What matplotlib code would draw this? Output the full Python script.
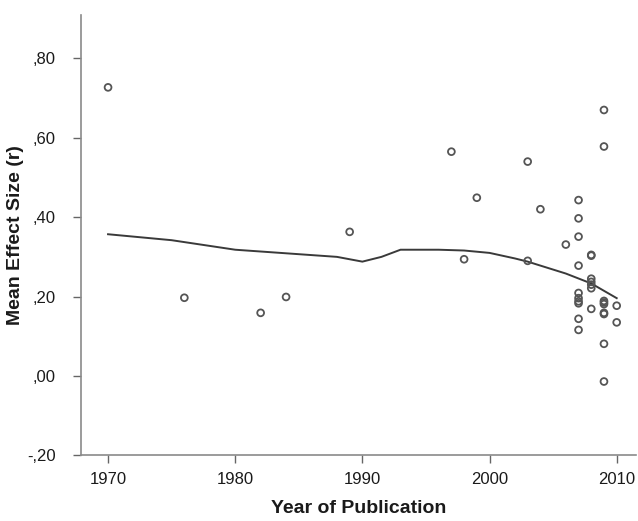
import matplotlib
matplotlib.use("Agg")
import matplotlib.pyplot as plt
from matplotlib.ticker import FuncFormatter

plt.rcParams['font.family'] = ['Liberation Sans', 'DejaVu Sans']

# Scatter data: year of publication and mean effect size (r)
years = [1970, 1976, 1982, 1984, 1989, 1997, 1998, 1999, 2003, 2003, 2004,
         2006,
         2007, 2007, 2007, 2007, 2007, 2007, 2007, 2007, 2007, 2007,
         2008, 2008, 2008, 2008, 2008, 2008, 2008,
         2009, 2009, 2009, 2009, 2009, 2009, 2009, 2009, 2009,
         2010, 2010]
effects = [0.727, 0.197, 0.159, 0.199, 0.363, 0.565, 0.294, 0.449, 0.540, 0.290, 0.420,
           0.331,
           0.443, 0.397, 0.351, 0.278, 0.209, 0.196, 0.188, 0.183, 0.144, 0.116,
           0.305, 0.303, 0.245, 0.237, 0.221, 0.169, 0.230,
           0.670, 0.578, 0.189, 0.181, 0.159, 0.156, 0.081, -0.014, 0.185,
           0.177, 0.135]

# Loess fit line
fit_years = [1970, 1975, 1980, 1984, 1988, 1990, 1991.5, 1993, 1996, 1998,
             2000, 2002, 2003, 2004, 2006, 2008, 2010]
fit_values = [0.357, 0.342, 0.318, 0.309, 0.300, 0.288, 0.300, 0.318, 0.318, 0.316,
              0.310, 0.296, 0.288, 0.278, 0.258, 0.233, 0.196]

x_ticks = [1970, 1980, 1990, 2000, 2010]
y_ticks = [-0.20, 0.00, 0.20, 0.40, 0.60, 0.80]

fig = plt.figure(figsize=(6.38, 5.21), dpi=100)
ax = fig.add_axes([0.1265, 0.126, 0.870, 0.845])

ax.plot(fit_years, fit_values, color='#3a3a3a', linewidth=1.4, zorder=2)
ax.scatter(years, effects, s=24, facecolors='none', edgecolors='#555555',
           linewidths=1.3, zorder=3)

ax.set_xlim(1967.85, 2011.5)
ax.set_ylim(-0.20, 0.909)
ax.set_xticks(x_ticks)
ax.set_yticks(y_ticks)


def fmt(v, pos):
    s = f"{v:.2f}".replace('.', ',')
    if s.startswith('0,'):
        s = s[1:]
    elif s.startswith('-0,'):
        s = '-' + s[2:]
    return s


ax.yaxis.set_major_formatter(FuncFormatter(fmt))
ax.xaxis.set_major_formatter(FuncFormatter(lambda v, p: f"{int(round(v))}"))

for side in ['top', 'right']:
    ax.spines[side].set_visible(False)
for side in ['left', 'bottom']:
    ax.spines[side].set_color('#8a8a8a')
    ax.spines[side].set_linewidth(1.2)

ax.tick_params(axis='both', direction='out', length=6, width=1.0, color='#666666',
               labelsize=12, labelcolor='#1a1a1a')
ax.tick_params(axis='y', pad=12)
ax.tick_params(axis='x', pad=6)

ax.set_xlabel('Year of Publication', fontsize=14, fontweight='bold', color='#1a1a1a', labelpad=9)
ax.set_ylabel('Mean Effect Size (r)', fontsize=14, fontweight='bold', color='#1a1a1a', labelpad=2)

fig.savefig('out.png', dpi=100)
